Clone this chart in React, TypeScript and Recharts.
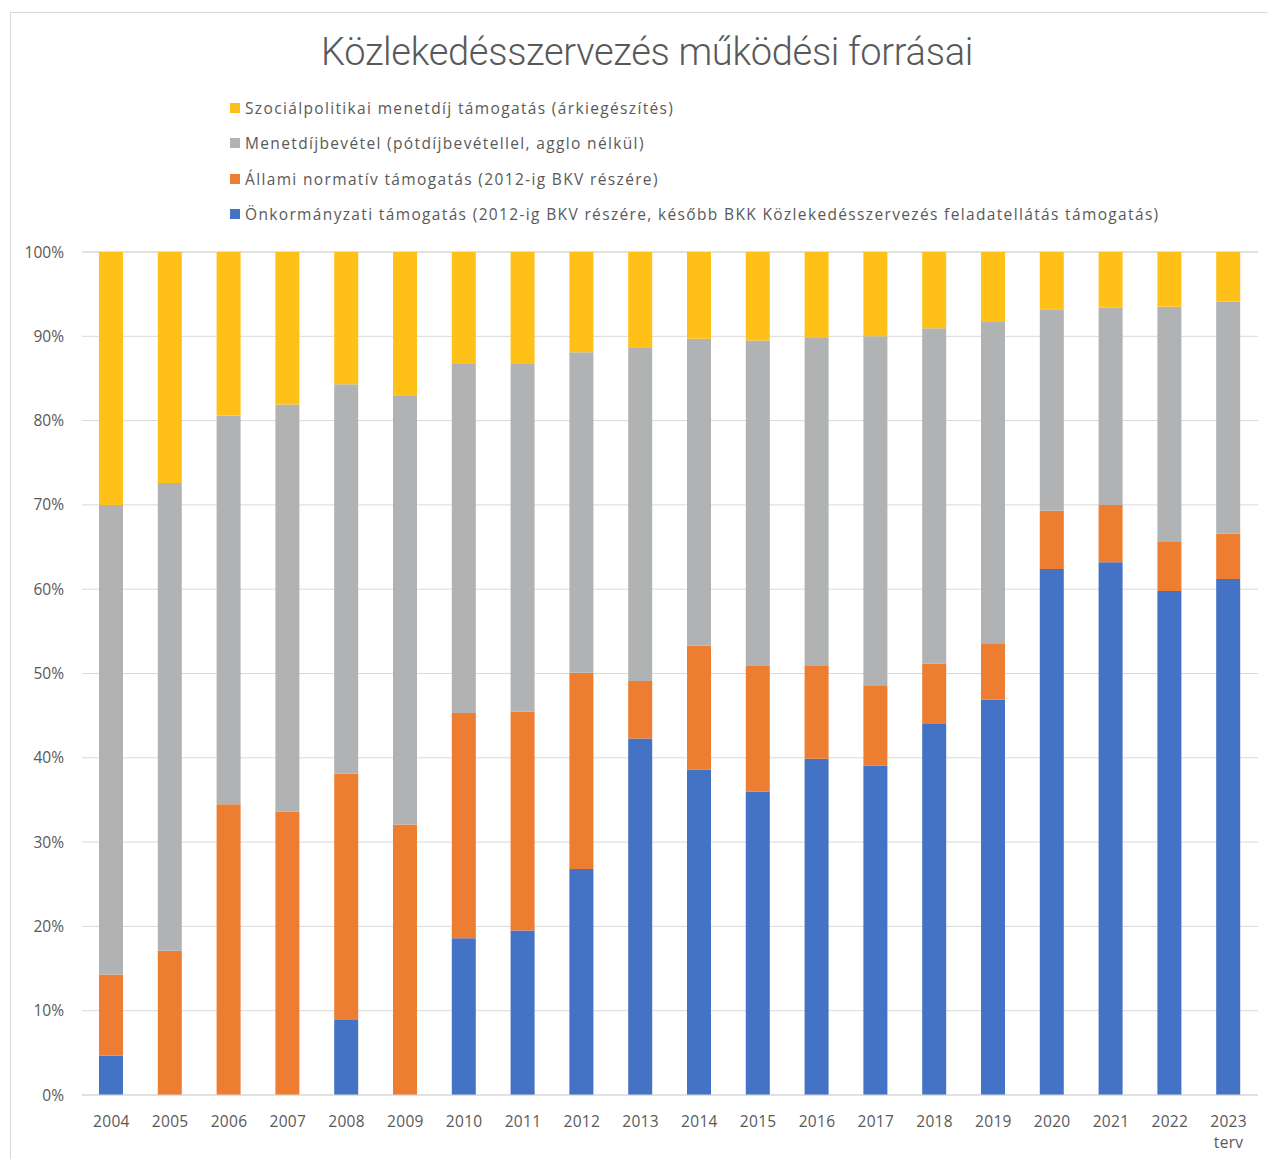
import React from "react";
import { BarChart, Bar, XAxis, YAxis, CartesianGrid, Legend } from "recharts";

const categories = [
  "2004", "2005", "2006", "2007", "2008", "2009", "2010", "2011", "2012", "2013",
  "2014", "2015", "2016", "2017", "2018", "2019", "2020", "2021", "2022", "2023\nterv",
];

const onkormanyzati = [4.65, 0, 0, 0, 8.9, 0, 18.6, 19.5, 26.8, 42.3, 38.6, 36.0, 39.9, 39.1, 44.0, 46.9, 62.4, 63.2, 59.8, 61.2];
const allami = [9.65, 17.1, 34.5, 33.6, 29.2, 32.1, 26.7, 26.0, 23.3, 6.8, 14.7, 14.9, 11.0, 9.5, 7.2, 6.7, 6.9, 6.8, 5.9, 5.4];
const menetdij = [55.7, 55.5, 46.1, 48.3, 46.2, 50.9, 41.4, 41.2, 38.0, 39.6, 36.4, 38.6, 38.9, 41.4, 39.75, 38.1, 23.9, 23.4, 27.8, 27.5];
const szocialpolitikai = [30.0, 27.4, 19.4, 18.1, 15.7, 17.0, 13.3, 13.3, 11.9, 11.3, 10.3, 10.5, 10.2, 10.0, 9.05, 8.3, 6.8, 6.6, 6.5, 5.9];

const majorTicks = [0, 10, 20, 30, 40, 50, 60, 70, 80, 90, 100];
const minorTicks = [0, 2, 4, 6, 8, 10, 12, 14, 16, 18, 20, 22, 24, 26, 28, 30, 32, 34, 36, 38, 40, 42, 44, 46, 48, 50, 52, 54, 56, 58, 60, 62, 64, 66, 68, 70, 72, 74, 76, 78, 80, 82, 84, 86, 88, 90, 92, 94, 96, 98, 100];

const seriesNames = {
  onk: "Önkormányzati támogatás (2012-ig BKV részére, később BKK Közlekedésszervezés feladatellátás támogatás)",
  all: "Állami normatív támogatás (2012-ig BKV részére)",
  men: "Menetdíjbevétel (pótdíjbevétellel, agglo nélkül)",
  szo: "Szociálpolitikai menetdíj támogatás (árkiegészítés)",
};

const legendOrder = ["szo", "men", "all", "onk"];

const data = categories.map((c, i) => ({
  year: c,
  onk: onkormanyzati[i],
  all: allami[i],
  men: menetdij[i],
  szo: szocialpolitikai[i],
}));

const FONT = "'Open Sans', 'Noto Sans', sans-serif";
const TEXT = "#595959";

const XTick = (props: any) => {
  const { x, y, payload } = props;
  const lines = String(payload.value).split("\n");
  return (
    <text x={x} y={y} textAnchor="middle" fill={TEXT} fontSize={15.5} fontFamily={FONT} letterSpacing={0.3}>
      {lines.map((l, i) => (
        <tspan key={i} x={x} dy={i === 0 ? "0.71em" : 21}>
          {l}
        </tspan>
      ))}
    </text>
  );
};

const renderLegend = (props: any) => {
  const items = [...(props.payload || [])].sort(
    (a: any, b: any) => legendOrder.indexOf(a.dataKey) - legendOrder.indexOf(b.dataKey)
  );
  return (
    <div style={{ fontFamily: FONT, fontSize: 15.5, color: TEXT, letterSpacing: 1.35 }}>
      {items.map((it: any, i: number) => (
        <div key={i} style={{ display: "flex", alignItems: "center", height: 35.3, whiteSpace: "nowrap" }}>
          <span style={{ display: "inline-block", width: 10, height: 10, background: it.color, marginRight: 5 }} />
          <span>{it.value}</span>
        </div>
      ))}
    </div>
  );
};

export default function App() {
  return (
    <div style={{ position: "absolute", left: 0, top: 0, width: 1268, height: 1159, background: "#fff", overflow: "hidden" }}>
      <div
        style={{
          position: "absolute",
          left: 10,
          top: 12,
          width: 1300,
          height: 1200,
          borderLeft: "1px solid #d9d9d9",
          borderTop: "1px solid #d9d9d9",
          boxSizing: "border-box",
        }}
      />
      <div
        style={{
          position: "absolute",
          left: 0,
          top: 30,
          width: 1294,
          textAlign: "center",
          fontFamily: "Roboto, 'Open Sans', sans-serif",
          fontWeight: 300,
          fontSize: 38,
          lineHeight: "44px",
          color: TEXT,
          letterSpacing: -0.3,
        }}
      >
        Közlekedésszervezés működési forrásai
      </div>
      <div style={{ position: "absolute", left: 0, top: 0 }}>
        <BarChart
          width={1268}
          height={1159}
          data={data}
          margin={{ top: 252, right: 10, bottom: 0, left: 0 }}
          barSize={24}
        >
          <CartesianGrid yAxisId="minor" vertical={false} stroke="#f2f2f2" />
          <CartesianGrid yAxisId="major" vertical={false} stroke="#d9d9d9" />
          <YAxis yAxisId="minor" hide domain={[0, 100]} ticks={minorTicks} type="number" />
          <YAxis
            yAxisId="major"
            domain={[0, 100]}
            ticks={majorTicks}
            type="number"
            width={82}
            axisLine={false}
            tickLine={false}
            tickSize={0}
            tickMargin={18}
            tickFormatter={(v: number) => `${v}%`}
            tick={{ fill: TEXT, fontSize: 15.5, fontFamily: FONT }}
          />
          <XAxis
            dataKey="year"
            height={64}
            axisLine={{ stroke: "#d9d9d9" }}
            tickLine={false}
            tickSize={0}
            tickMargin={21}
            interval={0}
            tick={<XTick />}
          />
          <Legend
            layout="vertical"
            align="center"
            verticalAlign="middle"
            content={renderLegend}
            wrapperStyle={{ position: "absolute", top: 90.5, left: 230, width: 1030 }}
          />
          <Bar yAxisId="major" dataKey="onk" name={seriesNames.onk} stackId="a" fill="#4472C4" isAnimationActive={false} />
          <Bar yAxisId="major" dataKey="all" name={seriesNames.all} stackId="a" fill="#ED7D31" isAnimationActive={false} />
          <Bar yAxisId="major" dataKey="men" name={seriesNames.men} stackId="a" fill="#B1B2B3" isAnimationActive={false} />
          <Bar yAxisId="major" dataKey="szo" name={seriesNames.szo} stackId="a" fill="#FFC118" isAnimationActive={false} />
        </BarChart>
      </div>
    </div>
  );
}
